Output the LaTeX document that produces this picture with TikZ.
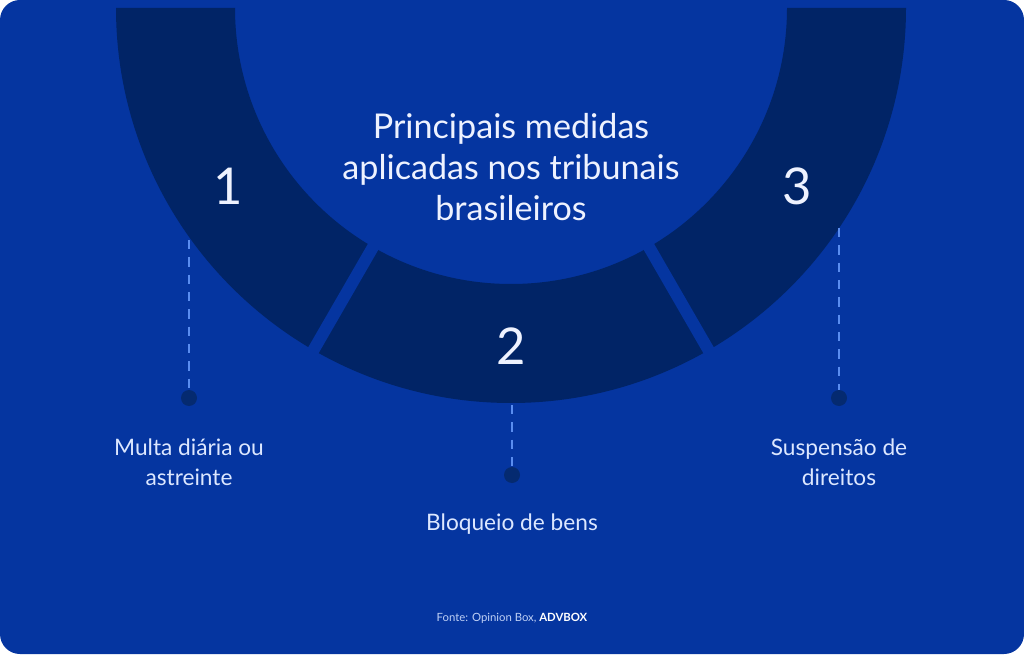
\documentclass[tikz,border=0pt]{standalone}
\usepackage{fontspec}
\setmainfont{Lato}
\definecolor{bgblue}{HTML}{0535A0}
\definecolor{navy}{HTML}{012466}
\definecolor{dashblue}{HTML}{5A8DF0}
\definecolor{dotnavy}{HTML}{052A70}
\definecolor{titlecol}{HTML}{EEF2FF}
\definecolor{labelcol}{HTML}{DCE7FF}
\definecolor{srccol}{HTML}{BFD0F5}
\tikzset{
  numtext/.style={text=titlecol, font=\fontsize{38}{40}\selectfont, inner sep=0pt},
  titletext/.style={text=titlecol, font=\fontsize{25.6}{30.75}\selectfont, align=center, inner sep=0pt},
  labeltext/.style={text=labelcol, font=\fontsize{17}{22.5}\selectfont, align=center, inner sep=0pt},
  leader/.style={draw=dashblue, line width=1.5pt, dash pattern=on 7pt off 6pt},
  dotmark/.style={circle, fill=dotnavy, minimum size=12pt, inner sep=0pt},
}
\begin{document}
\begin{tikzpicture}[x=0.75pt,y=0.75pt]
\useasboundingbox (0,0) rectangle (1024,654);
% background
\fill[white] (0,0) rectangle (1024,654);
\fill[bgblue, rounded corners=15pt] (0,0) rectangle (1024,654);
% half annulus
\begin{scope}
\clip (0,0) rectangle (1024,646);
\fill[navy] (511,646) ++(180:395) arc[start angle=180, end angle=360, radius=395]
  -- ++(180:119) arc[start angle=360, end angle=180, radius=276] -- cycle;
\end{scope}
% gaps
\draw[bgblue, line width=9pt] (511,646) ++(240:260) -- ++(240:150);
\draw[bgblue, line width=9pt] (511,646) ++(300:260) -- ++(300:150);
% numbers
\node[numtext] (n1) at (228,468) {1};
\node[numtext] (n2) at (511,308) {2};
\node[numtext] (n3) at (797,468) {3};
% title
\node[titletext] (title) at (511,487) {Principais medidas\\aplicadas nos tribunais\\brasileiros};
% leaders
\coordinate (s1) at (189,414);
\coordinate (s2) at (512,249);
\coordinate (s3) at (839,426);
\node[dotmark] (d1) at (189,256) {};
\node[dotmark] (d2) at (512,179) {};
\node[dotmark] (d3) at (839,256) {};
\draw[leader] (s1) -- (d1.north);
\draw[leader] (s2) -- (d2.north);
\draw[leader] (s3) -- (d3.north);
% labels
\node[labeltext] (l1) at (189,192) {Multa diária ou\\astreinte};
\node[labeltext] (l2) at (512,130) {Bloqueio de bens};
\node[labeltext] (l3) at (839,192) {Suspensão de\\direitos};
% source
\node[inner sep=0pt, font=\fontsize{8.5}{10}\selectfont, text=srccol] (src) at (512,36) {Fonte: Opinion Box, {\bfseries\color{white}ADVBOX}};
\end{tikzpicture}
\end{document}
